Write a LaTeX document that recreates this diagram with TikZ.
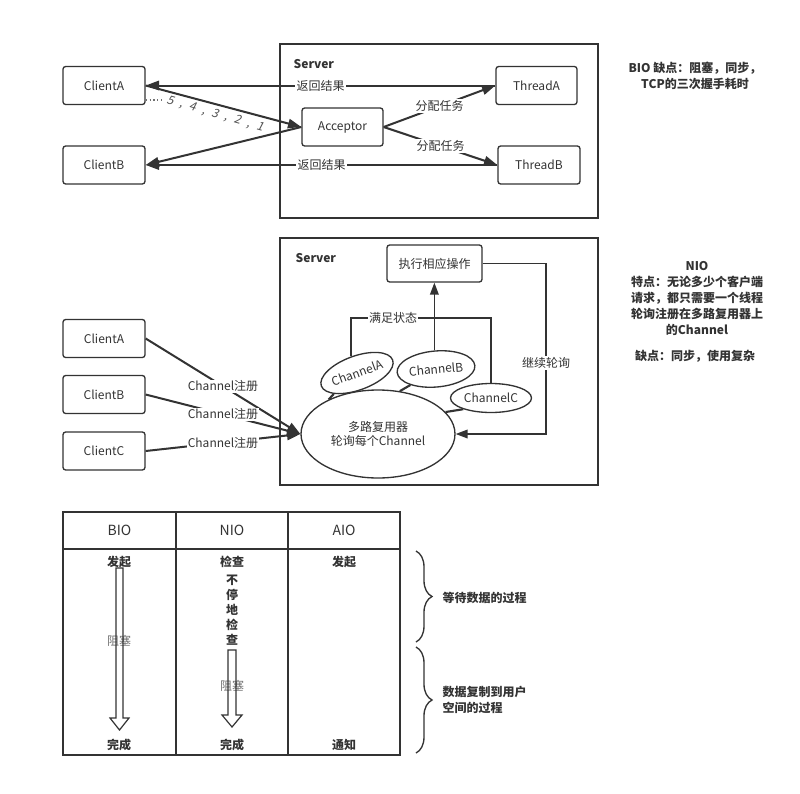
\documentclass[tikz,border=0pt]{standalone}
\usepackage{fontspec}
\setmainfont{Noto Sans CJK SC}
\newfontfamily\slantfont[FakeSlant=0.2]{Noto Sans CJK SC}
\usetikzlibrary{arrows.meta,shapes.geometric,decorations.pathreplacing}
\definecolor{ink}{HTML}{333333}
\definecolor{soft}{HTML}{707070}
\def\PX{0.75pt}
\def\sepgap{\hspace{5pt}}
\begin{document}
\begin{tikzpicture}[x=0.75pt,y=-0.75pt,
  font=\fontsize{9}{11}\selectfont, text=ink,
  box/.style={draw=ink, line width=1pt, rounded corners=2pt, minimum width=82*\PX, minimum height=38*\PX, inner sep=0pt},
  frame/.style={draw=ink, line width=1.1pt, inner sep=0pt},
  arr/.style={draw=ink, line width=1.5pt, -{Triangle[length=10pt,width=7pt]}},
  thinarr/.style={draw=ink, line width=1.1pt, -{Triangle[length=9pt,width=6.5pt]}},
  line/.style={draw=ink, line width=1pt},
  lab/.style={fill=white, inner sep=1pt},
  ell/.style={ellipse, draw=ink, line width=1pt, inner sep=0pt, fill=white},
  note/.style={align=center, font=\fontsize{9}{12}\selectfont\bfseries},
  cell/.style={draw=ink, line width=1pt, inner sep=0pt},
  bd/.style={font=\fontsize{9}{11}\selectfont\bfseries},
  hollow/.style={draw=ink, line width=0.9pt},
  brc/.style={draw=ink, line width=1pt, decorate, decoration={brace, amplitude=12pt}}
]
\useasboundingbox (0,0) rectangle (800,793);
\fill[white] (0,0) rectangle (800,793);

% ---------------- BIO ----------------
\node[frame, minimum width=318*\PX, minimum height=174*\PX] (srv1) at (439,131) {};
\node[anchor=west, font=\fontsize{9}{11}\selectfont\bfseries] (srv1lab) at (289,64) {Server};
\node[box] (clientA1) at (104,85.5) {ClientA};
\node[box] (clientB1) at (104,165) {ClientB};
\node[box, minimum width=81*\PX] (acceptor) at (342.5,127) {Acceptor};
\node[box, minimum width=81*\PX] (threadA) at (536.5,85.5) {ThreadA};
\node[box] (threadB) at (539,165) {ThreadB};

\draw[arr] (threadA.west) -- node[lab, pos=0.5] {返回结果} (clientA1.east);
\draw[arr] (threadB.west) -- node[lab, pos=0.5] {返回结果} (clientB1.east);
\draw[arr] (clientA1.east) -- (acceptor.west);
\draw[arr] (acceptor.west) -- (clientB1.east);
\draw[arr] (acceptor.east) -- node[lab, pos=0.5] {分配任务} (threadA.west);
\draw[arr] (acceptor.east) -- node[lab, pos=0.5] {分配任务} (threadB.west);

\coordinate (dotend) at (162,100);
\draw[ink!70, dotted, line width=0.9pt] (clientA1.east |- dotend) -- (dotend);
\node[rotate=-16, text=ink!85, font=\slantfont\fontsize{9}{11}\selectfont] (seq) at (215,114)
  {5\sepgap,\sepgap4\sepgap,\sepgap3\sepgap,\sepgap2\sepgap,\sepgap1};

\node[note] (bionote) at (695,76) {BIO 缺点：阻塞，同步，\\TCP的三次握手耗时};

% ---------------- NIO ----------------
\node[frame, minimum width=318*\PX, minimum height=247*\PX] (srv2) at (439,361.5) {};
\node[anchor=west, font=\fontsize{9}{11}\selectfont\bfseries] (srv2lab) at (291,258) {Server};
\node[box, minimum width=95*\PX, minimum height=37*\PX] (exec) at (434.5,263.5) {执行相应操作};
\node[box] (clientA2) at (104,338.5) {ClientA};
\node[box] (clientB2) at (104,394.5) {ClientB};
\node[box] (clientC2) at (104,451) {ClientC};

\node[ell, minimum width=154*\PX, minimum height=88*\PX, align=center] (mux) at (378,434)
  {多路复用器\\轮询每个Channel};
\node[ell, minimum width=72*\PX, minimum height=34*\PX, rotate=20] (chA) at (357,373) {ChannelA};
\node[ell, minimum width=78*\PX, minimum height=36*\PX, rotate=5] (chB) at (436,369) {ChannelB};
\node[ell, minimum width=81*\PX, minimum height=29*\PX] (chC) at (491,398) {ChannelC};

\draw[line, line width=1.6pt] (chA.202) -- (mux.145);
\draw[line, line width=1.6pt] (chB.207) -- (mux.63);
\draw[line, line width=1.6pt] (chC.202) -- (mux.18);

\draw[thinarr] (chB.north) -- (chB.north |- exec.south);

\node[lab, inner sep=0.5pt] (sat) at (393,318) {满足状态};
\draw[line] (chA.north) |- (sat.west);
\draw[line] (sat.east) -| (chC.north);

\node[lab] (cont) at (546,363) {继续轮询};
\draw[line] (exec.east) -| (cont.north);
\draw[thinarr] (cont.south) |- (mux.east);

\draw[arr] (clientA2.east) -- node[lab, pos=0.5, inner sep=0.5pt] {Channel注册} (mux.west);
\draw[arr] (clientB2.east) -- node[lab, pos=0.5, inner sep=0.5pt] {Channel注册} (mux.west);
\draw[arr] (clientC2.east) -- node[lab, pos=0.5, inner sep=0.5pt] {Channel注册} (mux.west);

\node[note] (nionote) at (697,299) {NIO\\特点：无论多少个客户端\\请求，都只需要一个线程\\轮询注册在多路复用器上\\的Channel};
\node[note] (nioneg) at (695,356) {缺点：同步，使用复杂};

% ---------------- table ----------------
\node[cell, minimum width=113*\PX, minimum height=37*\PX, font=\fontsize{10.5}{12}\selectfont] (hBIO) at (119.5,530.5) {BIO};
\node[cell, minimum width=112*\PX, minimum height=37*\PX, font=\fontsize{10.5}{12}\selectfont] (hNIO) at (232,530.5) {NIO};
\node[cell, minimum width=112*\PX, minimum height=37*\PX, font=\fontsize{10.5}{12}\selectfont] (hAIO) at (344,530.5) {AIO};
\node[cell, minimum width=113*\PX, minimum height=206*\PX] (cBIO) at (119.5,652) {};
\node[cell, minimum width=112*\PX, minimum height=206*\PX] (cNIO) at (232,652) {};
\node[cell, minimum width=112*\PX, minimum height=206*\PX] (cAIO) at (344,652) {};

\node[bd] (b1) at (119,562) {发起};
\node[text=soft] (b2) at (119,641) {阻塞};
\draw[hollow] (116,568) -- (123,568) -- (123,718) -- (129,718) -- (119.5,730) -- (110,718) -- (116,718) -- cycle;
\node[bd] (b3) at (119,745) {完成};

\node[bd] (n1) at (232,562) {检查};
\node[bd, align=center, font=\fontsize{9}{11.3}\selectfont\bfseries] (n2) at (232,610) {不\\停\\地\\检\\查};
\node[text=soft] (n3) at (232,686) {阻塞};
\draw[hollow] (228,650) -- (236,650) -- (236,715) -- (242,715) -- (232,727) -- (222,715) -- (228,715) -- cycle;
\node[bd] (n4) at (232,745) {完成};

\node[bd] (a1) at (344,562) {发起};
\node[bd] (a2) at (344,745) {通知};

\draw[brc] (416,551) -- (416,642);
\draw[brc] (416,647) -- (416,753);
\node[anchor=west, bd] (w1) at (438,598) {等待数据的过程};
\node[anchor=west, bd, align=left, font=\fontsize{9}{12}\selectfont\bfseries] (w2) at (438,700) {数据复制到用户\\空间的过程};
\end{tikzpicture}
\end{document}
